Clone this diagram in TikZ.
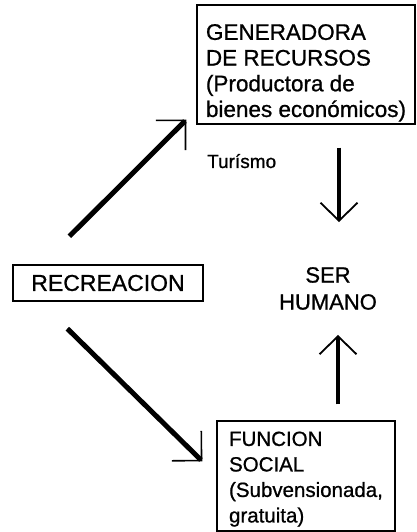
\documentclass[tikz,border=0pt]{standalone}
\usepackage{fontspec}
\setmainfont{Liberation Sans}[FakeBold=0.9]
\usetikzlibrary{arrows.meta}
\tikzset{
  caja/.style={draw, line width=1.3pt, align=left, inner sep=0pt},
  gruesa/.style={line width=5pt, -{Straight Barb[length=21pt,width=42pt,line width=1.6pt]}},
  recta/.style={line width=4pt, -{Straight Barb[length=18pt,width=37pt,line width=1.8pt]}},
}
\begin{document}
\begin{tikzpicture}[x=1pt,y=1pt]
%
\useasboundingbox (0,0) rectangle (417,532);
%
% cajas y textos
\node[caja, minimum width=218pt, minimum height=119pt, font=\fontsize{22.5}{25.7}\selectfont] (gen) at (306,467.5)
  {\rule{0pt}{32.5pt}GENERADORA\\DE RECURSOS\\(Productora de\\bienes económicos)};
\node[caja, minimum width=190pt, minimum height=36pt, font=\fontsize{23}{27}\selectfont] (rec) at (108,249) {RECREACION};
\node[caja, minimum width=178pt, minimum height=110pt, font=\fontsize{20.5}{25.5}\selectfont] (fun) at (306,56)
  {\rule{0pt}{20.6pt}FUNCION\\SOCIAL\\(Subvensionada,\\gratuita)};
\node[align=center, inner sep=0pt, font=\fontsize{22}{27}\selectfont] (ser) at (328,243.5) {SER\\HUMANO};
\node[anchor=base west, inner sep=0pt, font=\fontsize{19}{20}\selectfont] (tur) at (207,364) {Turísmo};
%
% flechas
\draw[gruesa] ([xshift=57pt,yshift=28pt]rec.north west) to ([xshift=-10pt,yshift=5pt]gen.south west);
\draw[gruesa] ([xshift=55pt,yshift=-27pt]rec.south west) to ([xshift=-14pt,yshift=-41pt]fun.north west);
\draw[recta] ([xshift=33pt,yshift=-23pt]gen.south) to ([xshift=11pt,yshift=45pt]ser.north);
\draw[recta] ([xshift=32pt,yshift=16pt]fun.north) to ([xshift=10pt,yshift=-25pt]ser.south);
%
\end{tikzpicture}
\end{document}
